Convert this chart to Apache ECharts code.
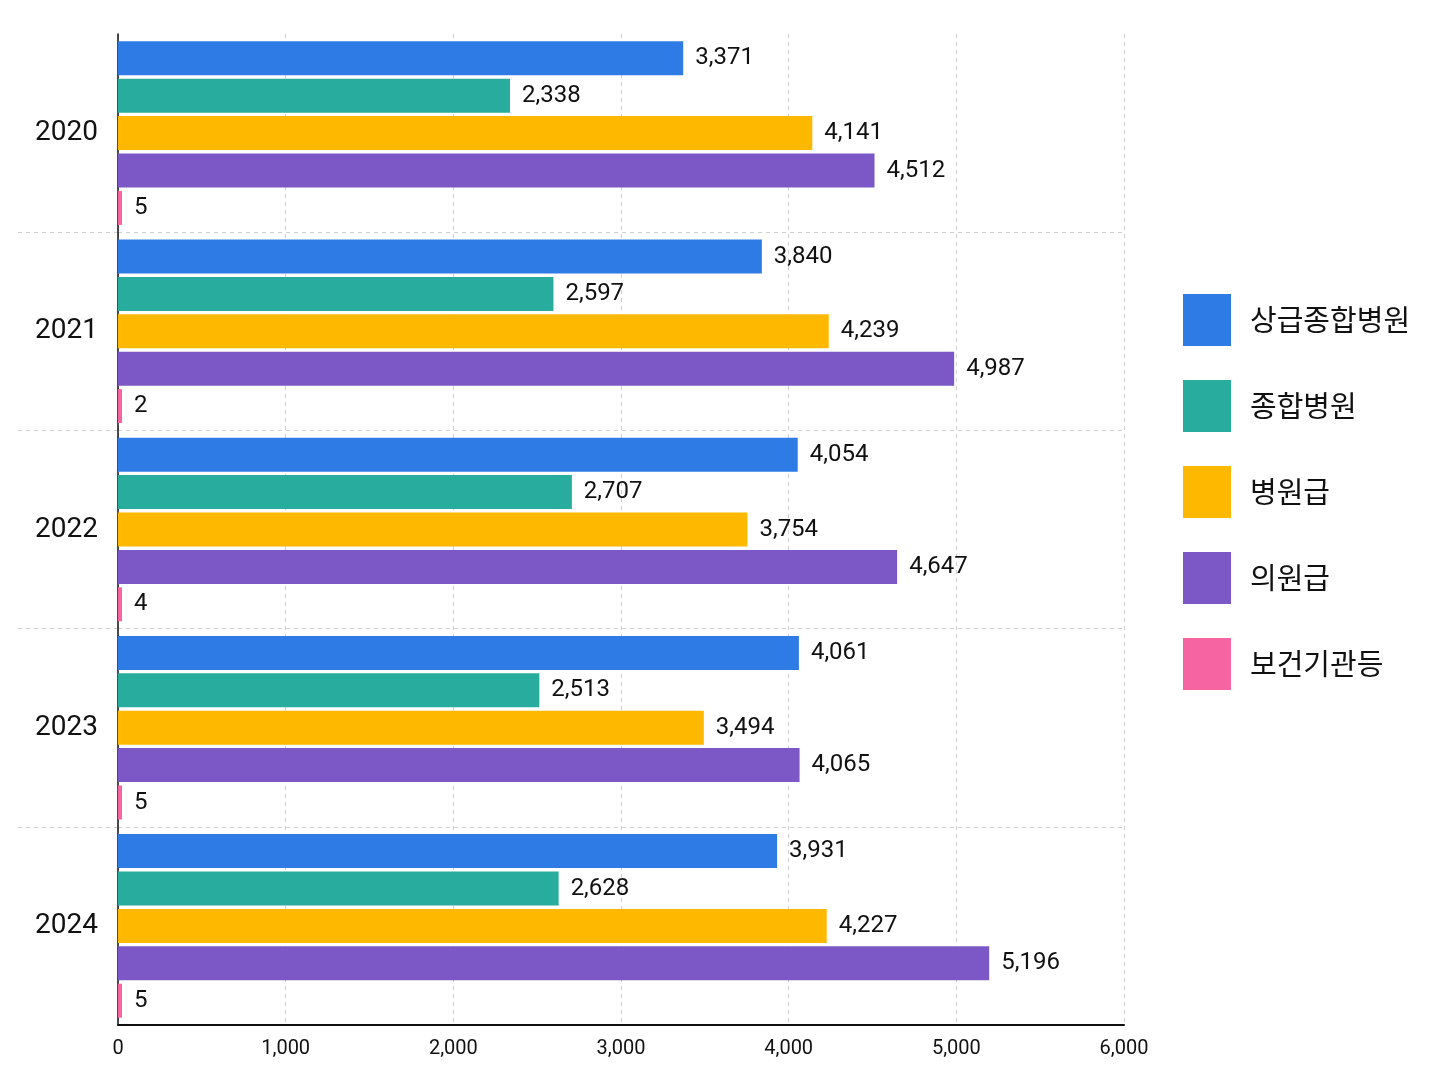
<!DOCTYPE html>
<html><head><meta charset="utf-8">
<script src="https://cdn.jsdelivr.net/npm/echarts@6/dist/echarts.min.js"></script>
<style>html,body{margin:0;padding:0;background:#fff}#c{width:1448px;height:1086px}</style>
</head><body><div id="c"></div>
<script>
const categories = ['2020', '2021', '2022', '2023', '2024'];
const seriesNames = ['상급종합병원', '종합병원', '병원급', '의원급', '보건기관등'];
const tertiary = [3371, 3840, 4054, 4061, 3931];
const general = [2338, 2597, 2707, 2513, 2628];
const hospital = [4141, 4239, 3754, 3494, 4227];
const clinic = [4512, 4987, 4647, 4065, 5196];
const publicHealth = [5, 2, 4, 5, 5];
const xTicks = [0, 1000, 2000, 3000, 4000, 5000, 6000];
const colors = ['#2E7BE6', '#27AC9D', '#FFB800', '#7B58C6', '#F764A2'];

const seriesData = [tertiary, general, hospital, clinic, publicHealth];
const numFont = 'Roboto, "Noto Sans CJK KR", sans-serif';
const krFont = '"Noto Sans CJK KR", "Noto Sans", sans-serif';
const fmt = v => Number(v).toLocaleString('en-US');
const dashed = { color: '#d0d0d0', type: [4, 4], width: 1 };

const chart = echarts.init(document.getElementById('c'), null, { renderer: 'canvas' });
chart.setOption({
  backgroundColor: '#ffffff',
  animation: false,
  color: colors,
  legend: {
    orient: 'vertical',
    left: 1178,
    top: 289,
    itemWidth: 48,
    itemHeight: 52,
    itemGap: 34,
    icon: 'rect',
    textStyle: { fontFamily: krFont, fontSize: 29, color: '#111', padding: [0, 0, 0, 14] },
    data: seriesNames
  },
  grid: [
    { left: 118, right: 324, top: 34, bottom: 61 },
    { left: 18, width: 100, top: 34, bottom: 61 }
  ],
  xAxis: [
    {
      type: 'value', gridIndex: 0, min: xTicks[0], max: xTicks[xTicks.length - 1], interval: xTicks[1] - xTicks[0],
      axisLine: { show: true, lineStyle: { color: '#111', width: 2 } },
      axisTick: { show: false },
      axisLabel: { fontFamily: numFont, fontSize: 20, color: '#111', margin: 14, formatter: v => fmt(v) },
      splitLine: { show: true, lineStyle: dashed }
    },
    {
      type: 'value', gridIndex: 1, min: 0, max: 1, show: false
    }
  ],
  yAxis: [
    {
      type: 'category', gridIndex: 0, data: categories, inverse: true,
      axisLine: { show: true, lineStyle: { color: '#111', width: 1.5 } },
      axisTick: { show: false },
      axisLabel: { fontFamily: numFont, fontSize: 28, color: '#111', margin: 20 },
      splitLine: { show: true, showMinLine: false, showMaxLine: false, lineStyle: dashed }
    },
    {
      type: 'category', gridIndex: 1, data: categories, inverse: true,
      axisLine: { show: false }, axisTick: { show: false }, axisLabel: { show: false },
      splitLine: { show: true, showMinLine: false, showMaxLine: false, lineStyle: dashed }
    }
  ],
  series: seriesNames.map((name, i) => ({
    name,
    type: 'bar',
    xAxisIndex: 0,
    yAxisIndex: 0,
    data: seriesData[i],
    barWidth: 34,
    barGap: '10%',
    barMinHeight: i === 4 ? 4 : 0,
    itemStyle: { color: colors[i] },
    label: {
      show: true,
      position: 'right',
      distance: 12,
      fontFamily: numFont,
      fontSize: 24,
      color: '#111',
      formatter: p => fmt(p.value)
    }
  }))
});
</script>
</body></html>
